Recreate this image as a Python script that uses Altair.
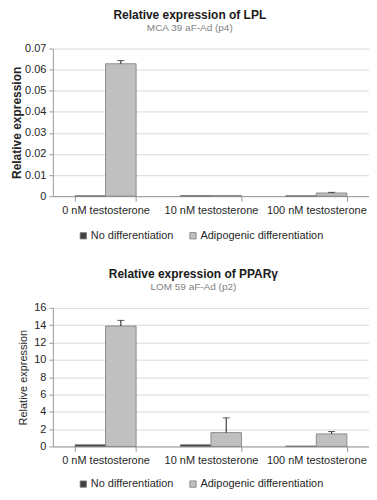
import altair as alt
import pandas as pd

categories = ["0 nM testosterone", "10 nM testosterone", "100 nM testosterone"]
series = ["No differentiation", "Adipogenic differentiation"]

# LPL panel (MCA 39 aF-Ad (p4))
lpl_no_diff = [0.0002, 0.0003, 0.0002]
lpl_adipo = [0.0628, 0.0003, 0.0015]
lpl_no_diff_err = [0.0, 0.0, 0.0]
lpl_adipo_err = [0.0015, 0.0, 0.0003]
lpl_ticks = [0, 0.01, 0.02, 0.03, 0.04, 0.05, 0.06, 0.07]

# PPARgamma panel (LOM 59 aF-Ad (p2))
ppar_no_diff = [0.2, 0.2, 0.05]
ppar_adipo = [13.9, 1.6, 1.45]
ppar_no_diff_err = [0.0, 0.0, 0.0]
ppar_adipo_err = [0.65, 1.7, 0.27]
ppar_ticks = [0, 2, 4, 6, 8, 10, 12, 14, 16]

FONT = "Liberation Sans"
COLORS = ["#404040", "#c0c0c0"]


def make_df(no, adipo, no_err, adipo_err):
    rows = []
    for i, c in enumerate(categories):
        rows.append({"category": c, "series": series[0], "value": no[i], "err": no_err[i]})
        rows.append({"category": c, "series": series[1], "value": adipo[i], "err": adipo_err[i]})
    df = pd.DataFrame(rows)
    df["top"] = df["value"] + df["err"]
    return df


def panel(df, title, subtitle, ticks, width, height, ytitle_bold, legend_x, legend_y,
          title_pad, title_offset):
    ymax = ticks[-1]
    yscale = alt.Scale(domain=[0, ymax], nice=False, zero=True)
    xscale = alt.Scale(paddingInner=0.42, paddingOuter=0.21)
    xaxis = alt.Axis(title=None, labelAngle=0, tickBand="extent", tickSize=5,
                     labelPadding=3, labelFontSize=11, labelFont=FONT,
                     labelColor="#262626", domainColor="#9a9a9a",
                     tickColor="#9a9a9a", grid=False, labelLimit=0,
                     labelOverlap=False)
    yaxis = alt.Axis(title="Relative expression", values=ticks, format="~g",
                     tickCount=len(ticks), labelOverlap=False,
                     titleFont=FONT, titleFontSize=11 if not ytitle_bold else 12,
                     titleFontWeight="bold" if ytitle_bold else "normal",
                     titleColor="#262626", titlePadding=title_pad,
                     labelFont=FONT, labelFontSize=11, labelColor="#262626",
                     labelPadding=3, tickSize=4, tickColor="#9a9a9a",
                     domainColor="#9a9a9a", gridColor="#d9d9d9")
    xenc = alt.X("category:N", sort=categories, scale=xscale, axis=xaxis)
    xoff = alt.XOffset("series:N", sort=series,
                       scale=alt.Scale(paddingInner=0, paddingOuter=0))
    bars = alt.Chart(df).mark_bar(stroke="#7a7a7a", strokeWidth=0.8).encode(
        x=xenc, xOffset=xoff,
        y=alt.Y("value:Q", scale=yscale, axis=yaxis),
        color=alt.Color("series:N", sort=series,
                        scale=alt.Scale(domain=series, range=COLORS),
                        legend=alt.Legend(title=None, orient="none", direction="horizontal",
                                          legendX=legend_x, legendY=legend_y,
                                          symbolType="square", symbolSize=40,
                                          symbolStrokeColor="#7a7a7a", symbolStrokeWidth=0.8,
                                          labelFont=FONT, labelFontSize=11,
                                          labelColor="#262626", labelOffset=2,
                                          columnPadding=14, labelLimit=0)),
    )
    errdf = df[df["err"] > 0]
    rules = alt.Chart(errdf).mark_rule(color="#1a1a1a", strokeWidth=1).encode(
        x=xenc, xOffset=xoff,
        y=alt.Y("value:Q", scale=yscale, axis=yaxis), y2="top:Q")
    caps = alt.Chart(errdf).mark_tick(color="#1a1a1a", thickness=1, size=7).encode(
        x=xenc, xOffset=xoff,
        y=alt.Y("top:Q", scale=yscale, axis=yaxis))
    return alt.layer(bars, rules, caps).properties(
        width=width, height=height,
        title=alt.TitleParams(text=title, subtitle=subtitle, font=FONT, fontSize=12,
                              fontWeight="bold", color="#1a1a1a", subtitleFont=FONT,
                              subtitleFontSize=10, subtitleColor="#7f7f7f",
                              subtitlePadding=1, anchor="middle", frame="bounds",
                              offset=title_offset))


top = panel(make_df(lpl_no_diff, lpl_adipo, lpl_no_diff_err, lpl_adipo_err),
            "Relative expression of LPL", "MCA 39 aF-Ad (p4)", lpl_ticks,
            317, 148, True, 25, 182, 1, 9)
bottom = panel(make_df(ppar_no_diff, ppar_adipo, ppar_no_diff_err, ppar_adipo_err),
               "Relative expression of PPARγ", "LOM 59 aF-Ad (p2)", ppar_ticks,
               317, 139, False, 25, 171, 5, 9)

chart = alt.concat(top, bottom, columns=1, spacing=27).resolve_scale(
    x="independent", y="independent", color="independent"
).resolve_legend(color="independent").properties(
    align="none", padding={"left": 2, "top": 0, "right": 0, "bottom": 0}
).configure_view(stroke=None)

chart.save("out.html", embed_options={"renderer": "svg", "actions": False})
